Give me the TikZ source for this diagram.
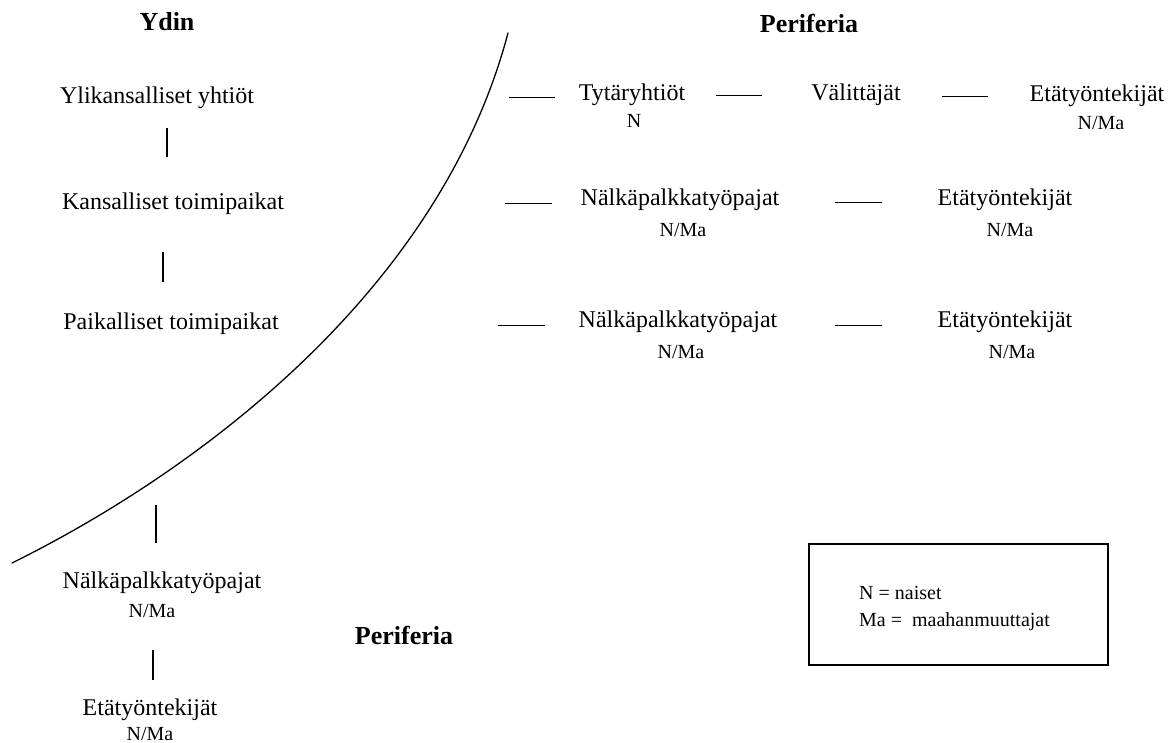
\documentclass[tikz,border=0pt]{standalone}
\usepackage{fontspec}
\setmainfont{Liberation Serif}
\begin{document}
\begin{tikzpicture}[x=1pt,y=-1pt,
  lbl/.style={font=\fontsize{24}{28}\selectfont, anchor=base, inner sep=0pt},
  sub/.style={font=\fontsize{20}{24}\selectfont, anchor=base, inner sep=0pt},
  head/.style={font=\fontsize{26}{30}\selectfont\bfseries, anchor=base, inner sep=0pt},
  leg/.style={font=\fontsize{20}{24}\selectfont, anchor=base west, inner sep=0pt},
  dashln/.style={line width=0.9pt},
  vln/.style={line width=1.4pt},
  border/.style={line width=1.6pt},
  boundary/.style={line width=1.3pt, line cap=round}
]
\useasboundingbox (0,0) rectangle (1176,743);

% headings
\node[head] (ydin) at (167,31) {Ydin};
\node[head] (per1) at (809,33) {Periferia};
\node[head] (per2) at (404,644) {Periferia};

% core column
\node[lbl] (ylik) at (157,104) {Ylikansalliset yhtiöt};
\node[lbl] (kans) at (173,210) {Kansalliset toimipaikat};
\node[lbl] (paik) at (171,330) {Paikalliset toimipaikat};
\node[lbl] (nbot) at (162,588) {Nälkäpalkkatyöpajat};
\node[sub] (nbots) at (152,617) {N/Ma};
\node[lbl] (ebot) at (150,715) {Etätyöntekijät};
\node[sub] (ebots) at (150,740) {N/Ma};

% row 1
\node[lbl] (tyt) at (632,101) {Tytäryhtiöt};
\node[sub] (tyts) at (634,128) {N};
\node[lbl] (val) at (856,101) {Välittäjät};
\node[lbl] (eta1) at (1097,102) {Etätyöntekijät};
\node[sub] (eta1s) at (1101,130) {N/Ma};

% row 2
\node[lbl] (nal2) at (680,206) {Nälkäpalkkatyöpajat};
\node[sub] (nal2s) at (683,237) {N/Ma};
\node[lbl] (eta2) at (1005,206) {Etätyöntekijät};
\node[sub] (eta2s) at (1010,237) {N/Ma};

% row 3
\node[lbl] (nal3) at (678,328) {Nälkäpalkkatyöpajat};
\node[sub] (nal3s) at (681,359) {N/Ma};
\node[lbl] (eta3) at (1005,328) {Etätyöntekijät};
\node[sub] (eta3s) at (1012,359) {N/Ma};

% dash coordinates
\coordinate (d1a) at (509,97);  \coordinate (d1b) at (555,97);
\coordinate (d2a) at (716,95);  \coordinate (d2b) at (762,95);
\coordinate (d3a) at (942,96);  \coordinate (d3b) at (988,96);
\coordinate (d4a) at (505,203); \coordinate (d4b) at (552,203);
\coordinate (d5a) at (835,202); \coordinate (d5b) at (882,202);
\coordinate (d6a) at (498,325); \coordinate (d6b) at (545,325);
\coordinate (d7a) at (835,325); \coordinate (d7b) at (882,325);
\foreach \d in {1,...,7} { \draw[dashln] (d\d a) -- (d\d b); }

% vertical links
\coordinate (v1a) at (167,128); \coordinate (v1b) at (167,157);
\coordinate (v2a) at (163,252); \coordinate (v2b) at (163,282);
\coordinate (v3a) at (156,505); \coordinate (v3b) at (156,543);
\coordinate (v4a) at (153,650); \coordinate (v4b) at (153,680);
\foreach \v in {1,...,4} { \draw[vln] (v\v a) -- (v\v b); }

% boundary curve
\coordinate (cbot) at (12,563);
\coordinate (ctop) at (508,33);
\draw[boundary] (cbot) .. controls (200,470) and (440,290) .. (ctop);

% legend
\draw[border] (809,544) rectangle (1108,665);
\node[leg] (legn) at (859,599) {N = naiset};
\node[leg] (legma) at (859,626) {Ma = \ maahanmuuttajat};
\end{tikzpicture}
\end{document}
